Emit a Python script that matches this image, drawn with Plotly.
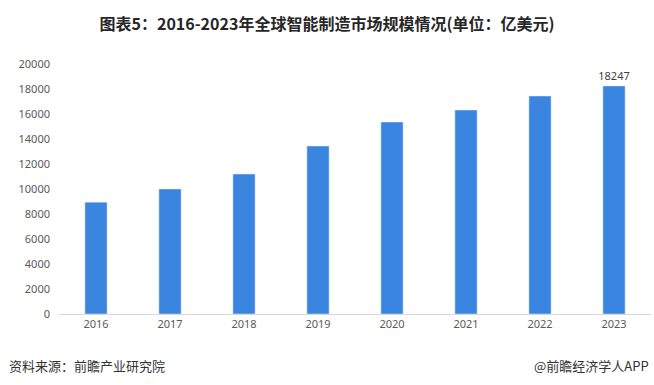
import plotly.graph_objects as go

years = ["2016", "2017", "2018", "2019", "2020", "2021", "2022", "2023"]
values = [8950, 10000, 11200, 13440, 15360, 16320, 17440, 18247]
label_text = ["", "", "", "", "", "", "", "18247"]
y_ticks = [0, 2000, 4000, 6000, 8000, 10000, 12000, 14000, 16000, 18000, 20000]
y_tick_text = [str(v) for v in y_ticks]

fig = go.Figure()
fig.add_trace(go.Bar(
    x=years, y=values, marker_color="#3A85E0", width=0.3,
    text=label_text, textposition="outside", cliponaxis=False,
    constraintext="none",
    textfont=dict(size=11, color="#404040", family="Noto Sans, sans-serif"),
))
fig.update_layout(
    width=654, height=385,
    margin=dict(l=59, r=3, t=64, b=71),
    paper_bgcolor="white", plot_bgcolor="white",
    showlegend=False,
    title=dict(text="<b>图表5：2016-2023年全球智能制造市场规模情况(单位：亿美元)</b>",
               x=0.5, xanchor="center", y=0.937, yanchor="middle",
               font=dict(size=16, color="#262626", family="Noto Sans CJK SC")),
    xaxis=dict(showgrid=False, showline=True, linecolor="#D9D9D9", linewidth=1,
               ticks="", tickfont=dict(size=11, color="#595959", family="Noto Sans, sans-serif")),
    yaxis=dict(range=[0, 20000], tickvals=y_ticks, ticktext=y_tick_text,
               showgrid=False, zeroline=False,
               showline=False, ticks="", ticklabelstandoff=8,
               tickfont=dict(size=11, color="#595959", family="Noto Sans, sans-serif")),
    annotations=[
        dict(text="资料来源：前瞻产业研究院", xref="paper", yref="paper", x=-0.088, y=-0.204,
             xanchor="left", yanchor="middle", showarrow=False,
             font=dict(size=13, color="#333333", family="Noto Sans CJK SC")),
        dict(text="@前瞻经济学人APP", xref="paper", yref="paper", x=1.0, y=-0.204,
             xanchor="right", yanchor="middle", showarrow=False,
             font=dict(size=13, color="#333333", family="Noto Sans CJK SC")),
    ],
)
fig.write_html("out.html", config={"displayModeBar": False},
               post_script="document.body.style.margin='0';")
